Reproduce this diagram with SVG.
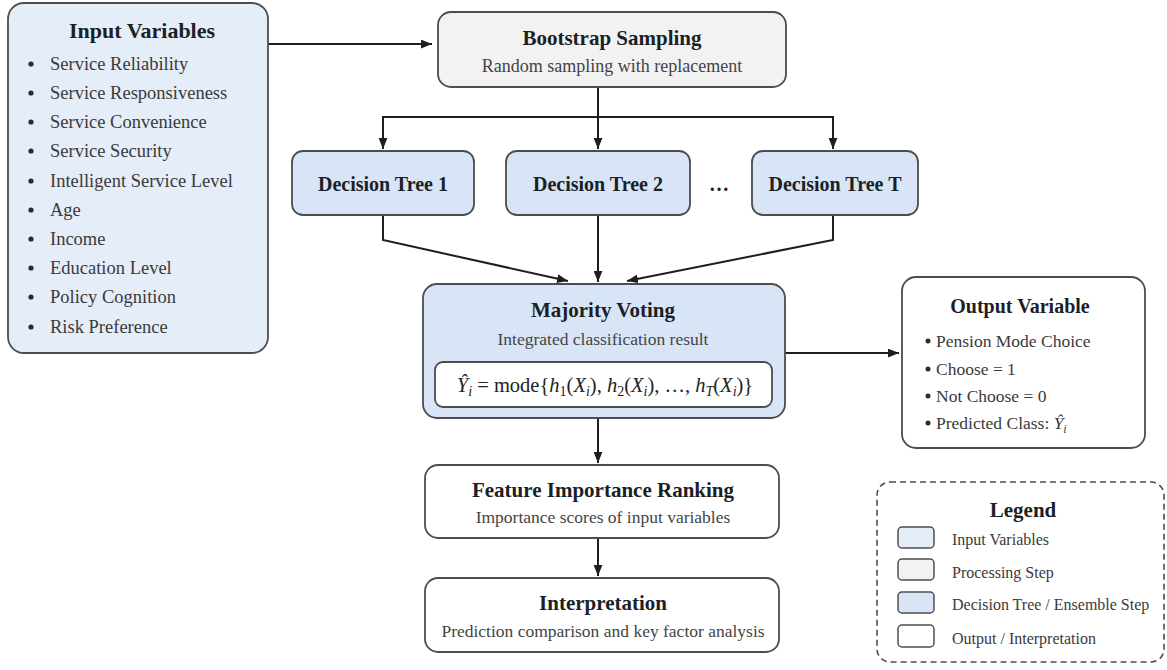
<svg xmlns="http://www.w3.org/2000/svg" width="1167" height="670" viewBox="0 0 1167 670">
  <defs>
    <marker id="arrow" viewBox="0 0 10 8" refX="10" refY="4" markerWidth="11" markerHeight="9" markerUnits="userSpaceOnUse" orient="auto">
      <path d="M0,0 L10,4 L0,8 z" fill="#1e1e1e"/>
    </marker>
  </defs>
  <style>
    .box { stroke: #4d4d4d; stroke-width: 1.8; }
    .input { fill: #e4edf8; }
    .proc { fill: #f2f2f2; }
    .tree { fill: #d8e5f6; }
    .out { fill: #ffffff; }
    .title { font-family: "Liberation Serif", "Times New Roman", serif; font-weight: bold; font-size: 21px; fill: #1c1f26; text-anchor: middle; }
    .sub { font-family: "Liberation Serif", "Times New Roman", serif; font-size: 17.5px; fill: #444; text-anchor: middle; }
    .item { font-family: "Liberation Serif", "Times New Roman", serif; font-size: 18.5px; fill: #3a3a3a; }
    .oitem { font-family: "Liberation Serif", "Times New Roman", serif; font-size: 17.5px; fill: #3a3a3a; }
    .litem { font-family: "Liberation Serif", "Times New Roman", serif; font-size: 16px; fill: #3a3a3a; }
    .math { font-family: "Liberation Serif", "Times New Roman", serif; font-size: 20.5px; fill: #222; text-anchor: middle; }
    .it { font-style: italic; }
    .bullet { fill: #2a2a2a; }
    .conn { fill: none; stroke: #1e1e1e; stroke-width: 2; }
  </style>

  <rect width="1167" height="670" fill="#ffffff"/>

  <!-- connectors -->
  <g id="connectors">
    <line class="conn" x1="268" y1="44" x2="432" y2="44" marker-end="url(#arrow)"/>
    <polyline class="conn" points="598,87 598,117"/>
    <line class="conn" x1="383" y1="117" x2="833" y2="117"/>
    <line class="conn" x1="383" y1="116" x2="383" y2="149" marker-end="url(#arrow)"/>
    <line class="conn" x1="598" y1="117" x2="598" y2="149" marker-end="url(#arrow)"/>
    <line class="conn" x1="833" y1="116" x2="833" y2="149" marker-end="url(#arrow)"/>
    <polyline class="conn" points="383,215 383,240 568,281" marker-end="url(#arrow)"/>
    <line class="conn" x1="598" y1="215" x2="598" y2="282" marker-end="url(#arrow)"/>
    <polyline class="conn" points="833,215 833,240 627,281" marker-end="url(#arrow)"/>
    <line class="conn" x1="785" y1="353" x2="899" y2="353" marker-end="url(#arrow)"/>
    <line class="conn" x1="598" y1="418" x2="598" y2="463" marker-end="url(#arrow)"/>
    <line class="conn" x1="598" y1="538" x2="598" y2="576" marker-end="url(#arrow)"/>
  </g>

  <!-- input variables -->
  <g id="input-variables">
    <rect class="box input" x="8" y="3" width="260" height="350" rx="16"/>
    <text class="title" x="142" y="38" style="font-size:22px">Input Variables</text>
    <g class="bullet">
      <circle cx="31" cy="64" r="2.6"/>
      <circle cx="31" cy="93" r="2.6"/>
      <circle cx="31" cy="122" r="2.6"/>
      <circle cx="31" cy="151" r="2.6"/>
      <circle cx="31" cy="181" r="2.6"/>
      <circle cx="31" cy="210" r="2.6"/>
      <circle cx="31" cy="239" r="2.6"/>
      <circle cx="31" cy="268" r="2.6"/>
      <circle cx="31" cy="297" r="2.6"/>
      <circle cx="31" cy="327" r="2.6"/>
    </g>
    <text class="item" x="50" y="70">Service Reliability</text>
    <text class="item" x="50" y="99">Service Responsiveness</text>
    <text class="item" x="50" y="128">Service Convenience</text>
    <text class="item" x="50" y="157">Service Security</text>
    <text class="item" x="50" y="187">Intelligent Service Level</text>
    <text class="item" x="50" y="216">Age</text>
    <text class="item" x="50" y="245">Income</text>
    <text class="item" x="50" y="274">Education Level</text>
    <text class="item" x="50" y="303">Policy Cognition</text>
    <text class="item" x="50" y="333">Risk Preference</text>
  </g>

  <!-- bootstrap sampling -->
  <g id="bootstrap">
    <rect class="box proc" x="438" y="12" width="348" height="75" rx="13"/>
    <text class="title" x="612" y="45">Bootstrap Sampling</text>
    <text class="sub" x="612" y="72" style="font-size:18px">Random sampling with replacement</text>
  </g>

  <!-- decision trees -->
  <g id="tree-1">
    <rect class="box tree" x="292" y="151" width="182" height="64" rx="11"/>
    <text class="title" x="383" y="191" style="font-size:20px">Decision Tree 1</text>
  </g>
  <g id="tree-2">
    <rect class="box tree" x="506" y="151" width="184" height="64" rx="11"/>
    <text class="title" x="598" y="191" style="font-size:20px">Decision Tree 2</text>
  </g>
  <g id="tree-ellipsis">
    <text class="title" x="719" y="191" style="font-size:20px">…</text>
  </g>
  <g id="tree-t">
    <rect class="box tree" x="752" y="151" width="166" height="64" rx="11"/>
    <text class="title" x="835" y="191" style="font-size:20px">Decision Tree T</text>
  </g>

  <!-- majority voting -->
  <g id="majority-voting">
    <rect class="box tree" x="423" y="284" width="362" height="134" rx="14"/>
    <text class="title" x="603" y="317">Majority Voting</text>
    <text class="sub" x="603" y="345">Integrated classification result</text>
    <rect class="box out" x="435" y="362" width="337" height="45" rx="8"/>
    <text class="math" x="605" y="392"><tspan class="it">Ŷ</tspan><tspan class="it" font-size="14" dy="4">i</tspan><tspan dy="-4"> = mode{</tspan><tspan class="it">h</tspan><tspan font-size="14" dy="4">1</tspan><tspan dy="-4">(</tspan><tspan class="it">X</tspan><tspan class="it" font-size="14" dy="4">i</tspan><tspan dy="-4">), </tspan><tspan class="it">h</tspan><tspan font-size="14" dy="4">2</tspan><tspan dy="-4">(</tspan><tspan class="it">X</tspan><tspan class="it" font-size="14" dy="4">i</tspan><tspan dy="-4">), …, </tspan><tspan class="it">h</tspan><tspan class="it" font-size="14" dy="4">T</tspan><tspan dy="-4">(</tspan><tspan class="it">X</tspan><tspan class="it" font-size="14" dy="4">i</tspan><tspan dy="-4">)}</tspan></text>
  </g>

  <!-- output variable -->
  <g id="output-variable">
    <rect class="box out" x="902" y="277" width="243" height="171" rx="14"/>
    <text class="title" x="1020" y="313" style="font-size:20px">Output Variable</text>
    <g class="bullet">
      <circle cx="928" cy="341" r="2.5"/>
      <circle cx="928" cy="369" r="2.5"/>
      <circle cx="928" cy="396" r="2.5"/>
      <circle cx="928" cy="423" r="2.5"/>
    </g>
    <text class="oitem" x="936" y="347">Pension Mode Choice</text>
    <text class="oitem" x="936" y="375">Choose = 1</text>
    <text class="oitem" x="936" y="402">Not Choose = 0</text>
    <text class="oitem" x="936" y="429">Predicted Class:  <tspan class="it">Ŷ</tspan><tspan class="it" font-size="12" dy="4">i</tspan></text>
  </g>

  <!-- feature importance -->
  <g id="feature-importance">
    <rect class="box out" x="425" y="465" width="354" height="73" rx="13"/>
    <text class="title" x="603" y="497">Feature Importance Ranking</text>
    <text class="sub" x="603" y="523">Importance scores of input variables</text>
  </g>

  <!-- interpretation -->
  <g id="interpretation">
    <rect class="box out" x="425" y="578" width="354" height="74" rx="13"/>
    <text class="title" x="603" y="610">Interpretation</text>
    <text class="sub" x="603" y="637">Prediction comparison and key factor analysis</text>
  </g>

  <!-- legend -->
  <g id="legend">
    <rect x="877" y="482" width="287" height="180" rx="13" fill="#ffffff" stroke="#4d4d4d" stroke-width="1.6" stroke-dasharray="6 4"/>
    <text class="title" x="1023" y="517">Legend</text>
    <rect class="box input" x="898" y="527" width="36" height="21" rx="4" style="stroke-width:1.5"/>
    <text class="litem" x="952" y="545">Input Variables</text>
    <rect class="box proc" x="898" y="559" width="36" height="21" rx="4" style="stroke-width:1.5"/>
    <text class="litem" x="952" y="578">Processing Step</text>
    <rect class="box tree" x="898" y="592" width="36" height="21" rx="4" style="stroke-width:1.5"/>
    <text class="litem" x="952" y="610">Decision Tree / Ensemble Step</text>
    <rect class="box out" x="898" y="625" width="36" height="22" rx="4" style="stroke-width:1.5"/>
    <text class="litem" x="952" y="644">Output / Interpretation</text>
  </g>
</svg>
